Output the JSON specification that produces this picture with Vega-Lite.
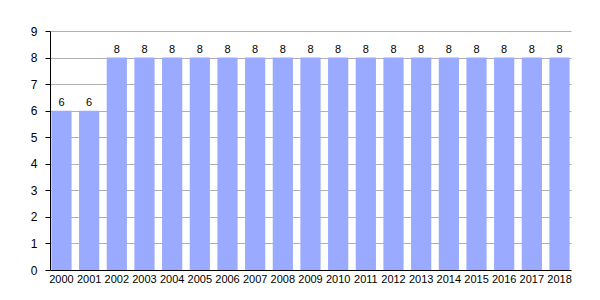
{
  "$schema": "https://vega.github.io/schema/vega-lite/v6.json",
  "width": 521,
  "height": 239,
  "autosize": {"type": "none"},
  "padding": {"left": 50, "top": 31, "right": 29, "bottom": 30},
  "background": "white",
  "config": {"view": {"stroke": null}, "font": "Liberation Sans"},
  "data": {"values": [
    {"year": "2000", "value": 6}, {"year": "2001", "value": 6},
    {"year": "2002", "value": 8}, {"year": "2003", "value": 8},
    {"year": "2004", "value": 8}, {"year": "2005", "value": 8},
    {"year": "2006", "value": 8}, {"year": "2007", "value": 8},
    {"year": "2008", "value": 8}, {"year": "2009", "value": 8},
    {"year": "2010", "value": 8}, {"year": "2011", "value": 8},
    {"year": "2012", "value": 8}, {"year": "2013", "value": 8},
    {"year": "2014", "value": 8}, {"year": "2015", "value": 8},
    {"year": "2016", "value": 8}, {"year": "2017", "value": 8},
    {"year": "2018", "value": 8}
  ]},
  "encoding": {
    "x": {"field": "year", "type": "ordinal",
      "scale": {"paddingInner": 0.27, "paddingOuter": 0.05},
      "axis": {"title": null, "labelAngle": 0, "ticks": false, "domainColor": "black", "labelFontSize": 11, "labelColor": "black", "labelPadding": 3}},
    "y": {"field": "value", "type": "quantitative",
      "scale": {"domain": [0, 9], "nice": false},
      "axis": {"title": null, "values": [0,1,2,3,4,5,6,7,8,9], "labelOverlap": false, "domainColor": "black", "tickColor": "black", "tickSize": 5, "gridColor": "#b0b0b0", "labelFontSize": 12, "labelColor": "black", "labelPadding": 8}}
  },
  "layer": [
    {"mark": {"type": "bar", "color": "#99aaff"}},
    {"mark": {"type": "text", "dy": -8, "fontSize": 11, "color": "black"},
     "encoding": {"text": {"field": "value", "type": "quantitative"}}}
  ]
}
